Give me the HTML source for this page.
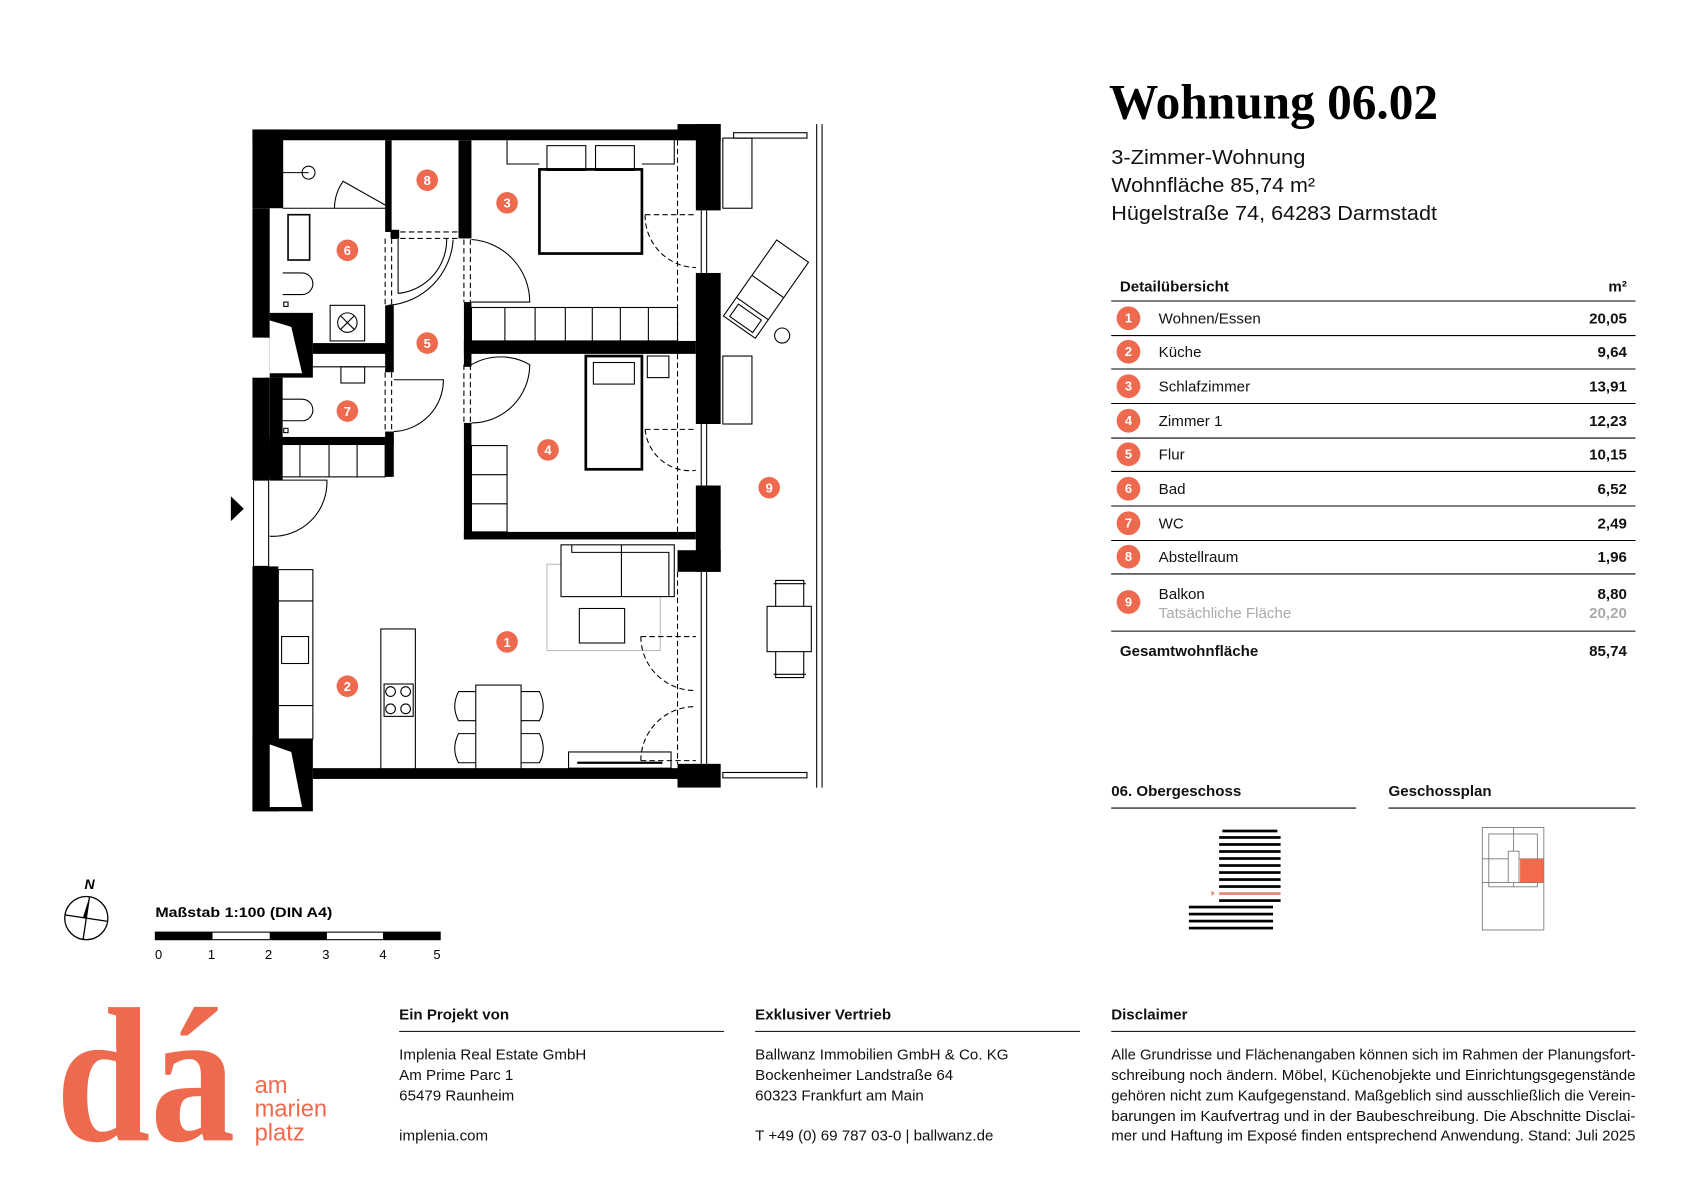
<!DOCTYPE html>
<html><head><meta charset="utf-8"><style>html,body{margin:0;padding:0;background:#fff}svg{display:block}</style></head>
<body>
<svg width="1683" height="1190" viewBox="0 0 1560 1103" xmlns="http://www.w3.org/2000/svg" font-family="Liberation Sans, sans-serif">
<rect width="1560" height="1103" fill="#fff"/>
<!-- ===== FLOOR PLAN ===== -->
<g fill="#000" stroke="none">
  <!-- top wall -->
  <rect x="234" y="120" width="412" height="10"/>
  <!-- left wall upper -->
  <rect x="234" y="120" width="28" height="73"/>
  <rect x="234" y="193" width="16" height="120"/>
  <rect x="234" y="350" width="16" height="95"/>
  <rect x="250" y="290" width="40" height="60"/>
  <rect x="250" y="350" width="12" height="95"/>
  <!-- left wall lower -->
  <rect x="234" y="525" width="24" height="227"/>
  <rect x="234" y="685" width="56" height="67"/>
  <!-- bottom wall -->
  <rect x="290" y="712" width="356" height="10"/>
  <!-- right wall columns -->
  <rect x="628" y="115" width="40" height="15"/>
  <rect x="645" y="115" width="23" height="80"/>
  <rect x="645" y="253" width="23" height="140"/>
  <rect x="645" y="450" width="23" height="80"/>
  <rect x="628" y="510" width="40" height="20"/>
  <rect x="628" y="708" width="40" height="22"/>
  <!-- interior walls -->
  <rect x="357" y="130" width="6" height="85"/>
  <rect x="425" y="130" width="12" height="85"/>
  <rect x="362" y="213" width="8" height="8"/>
  <rect x="425" y="213" width="12" height="8"/>
  <rect x="430" y="280" width="7" height="60"/>
  <rect x="430" y="316" width="215" height="12"/>
  <rect x="430" y="392" width="7" height="108"/>
  <rect x="430" y="493" width="215" height="7"/>
  <rect x="357" y="283" width="8" height="62"/>
  <rect x="290" y="318" width="70" height="10"/>
  <rect x="250" y="405" width="115" height="7"/>
  <rect x="357" y="400" width="8" height="42"/>
</g>
<g fill="#fff">
  <polygon points="250,297 270,303 280,346 250,346"/>
  <polygon points="250,690 270,697 280,748 250,748"/>
  <rect x="235" y="313" width="10" height="37"/>
  <rect x="235" y="445" width="14" height="80"/>
</g>
<g fill="none" stroke="#000" stroke-width="1">
  <rect x="235" y="445" width="14" height="80"/>
  <line x1="262" y1="193" x2="357" y2="193"/>
  <line x1="262" y1="130" x2="262" y2="193"/>
  <!-- bad fixtures -->
  <circle cx="286" cy="160" r="6"/><line x1="262" y1="160" x2="286" y2="160"/>
  <path d="M310 193 A45 45 0 0 1 318 168 L357 190"/>
  <rect x="267" y="199" width="20" height="42" stroke-width="1.5"/>
  <path d="M262 253 H280 A9 9 0 0 1 280 273 H262"/>
  <rect x="263" y="280" width="4" height="4"/>
  <rect x="306" y="283" width="32" height="33"/><circle cx="322" cy="299" r="9"/>
  <line x1="316" y1="293" x2="328" y2="305"/><line x1="328" y1="293" x2="316" y2="305"/>
  <line x1="290" y1="340" x2="357" y2="340"/>
  <rect x="316" y="340" width="22" height="15"/>
  <path d="M262 370 H280 A9 9 0 0 1 280 390 H262"/>
  <rect x="263" y="397" width="4" height="4"/>
  <!-- cabinets below 7 -->
  <rect x="250" y="412" width="107" height="30"/>
  <line x1="278" y1="412" x2="278" y2="442"/><line x1="305" y1="412" x2="305" y2="442"/><line x1="331" y1="412" x2="331" y2="442"/>
  <!-- doors -->
  <path d="M369 221 V272 M369 272 A50 50 0 0 0 414 221 M360 283 A65 65 0 0 0 420 222"/>
  <path d="M437 222 A58 58 0 0 1 491 280 H437"/>
  <path d="M437 338 A54 54 0 0 1 491 338 A54 54 0 0 1 437 392"/>
  <path d="M365 352 H411 A48 48 0 0 1 365 400"/>
  <path d="M250 445 H303 A50 50 0 0 1 250 497"/>
  <line x1="431" y1="160" x2="431" y2="210" stroke-width="3"/>
  <!-- bedroom 3 -->
  <rect x="500" y="157" width="95" height="78" stroke-width="2.5"/>
  <rect x="507" y="135" width="36" height="23"/><rect x="552" y="135" width="36" height="23"/>
  <path d="M470 130 V152 H500 M595 152 H625 V130"/>
  <rect x="437" y="285" width="191" height="31"/>
  <line x1="468" y1="285" x2="468" y2="316"/><line x1="496" y1="285" x2="496" y2="316"/><line x1="524" y1="285" x2="524" y2="316"/>
  <line x1="549" y1="285" x2="549" y2="316"/><line x1="575" y1="285" x2="575" y2="316"/><line x1="601" y1="285" x2="601" y2="316"/>
  <!-- room 4 -->
  <rect x="543" y="330" width="52" height="105" stroke-width="2.5"/>
  <rect x="550" y="336" width="38" height="20"/>
  <rect x="600" y="330" width="20" height="20"/>
  <rect x="437" y="413" width="33" height="80"/>
  <line x1="437" y1="440" x2="470" y2="440"/><line x1="437" y1="467" x2="470" y2="467"/>
  <!-- living -->
  <rect x="507" y="523" width="105" height="80" stroke="#bbb"/>
  <rect x="520" y="505" width="105" height="48" fill="#fff"/>
  <line x1="576" y1="505" x2="576" y2="553"/>
  <path d="M530 505 V512 H620 V553"/>
  <rect x="537" y="564" width="42" height="32"/>
  <!-- kitchen -->
  <rect x="258" y="528" width="32" height="157"/>
  <line x1="258" y1="557" x2="290" y2="557"/><line x1="258" y1="654" x2="290" y2="654"/>
  <rect x="261" y="590" width="25" height="25"/>
  <rect x="353" y="583" width="32" height="130"/>
  <rect x="356" y="634" width="27" height="30"/>
  <circle cx="362" cy="641" r="4.5"/><circle cx="376" cy="641" r="4.5"/><circle cx="362" cy="657" r="4.5"/><circle cx="376" cy="657" r="4.5"/>
  <!-- dining -->
  <rect x="441" y="635" width="42" height="78"/>
  <path d="M441 641 H425 Q418 655 425 668 H441 M441 680 H425 Q418 694 425 707 H441"/>
  <path d="M483 641 H500 Q507 655 500 668 H483 M483 680 H500 Q507 694 500 707 H483"/>
  <rect x="527" y="697" width="95" height="15"/>
  <line x1="535" y1="707" x2="614" y2="707" stroke-width="2"/>
  <!-- balcony -->
  <line x1="757" y1="115" x2="757" y2="730"/><line x1="762" y1="115" x2="762" y2="730"/>
  <line x1="655" y1="195" x2="655" y2="253"/><line x1="650" y1="195" x2="650" y2="253"/>
  <line x1="655" y1="393" x2="655" y2="450"/><line x1="650" y1="393" x2="650" y2="450"/>
  <line x1="655" y1="530" x2="655" y2="708"/><line x1="650" y1="530" x2="650" y2="708"/>
  <rect x="680" y="123" width="68" height="5"/><rect x="670" y="716" width="78" height="5"/>
  <rect x="670" y="128" width="27" height="65"/><rect x="670" y="330" width="27" height="63"/>
  <g transform="rotate(35 710 268)"><rect x="692" y="225" width="36" height="86"/><line x1="692" y1="265" x2="728" y2="265"/><line x1="692" y1="290" x2="728" y2="290"/><rect x="697" y="294" width="26" height="14"/></g>
  <circle cx="725" cy="311" r="7"/>
  <rect x="711" y="562" width="41" height="42"/>
  <path d="M719 562 V538 H745 V562 M719 604 V628 H745 V604 M717 541 H747 M717 625 H747"/>
</g>
<!-- dashed door / window lines -->
<g fill="none" stroke="#000" stroke-width="1" stroke-dasharray="5,3">
  <path d="M363 215 H425 M363 221 H425"/>
  <path d="M357 221 V283 M363 221 V283"/>
  <path d="M430 222 V280 M436 222 V280"/>
  <path d="M430 338 V392 M436 338 V392"/>
  <path d="M357 345 V400 M363 345 V400"/>
  <path d="M628 130 V316 M628 328 V493 M628 530 V708"/>
  <path d="M598 199 H645 M598 199 A48 48 0 0 0 645 248"/>
  <path d="M598 398 H645 M598 398 A42 42 0 0 0 645 436"/>
  <path d="M594 590 H645 M594 590 A50 50 0 0 0 645 640"/>
  <path d="M594 705 H645 M594 705 A50 50 0 0 1 645 655"/>
</g>
<polygon points="214,460 226,471.5 214,483" fill="#000"/>
<!-- room badges -->
<g font-weight="bold" font-size="12" fill="#fff" text-anchor="middle">
  <g fill="#ee6a4f"><circle cx="396" cy="167" r="10"/><circle cx="470" cy="188" r="10"/><circle cx="322" cy="232" r="10"/><circle cx="396" cy="318" r="10"/><circle cx="322" cy="381" r="10"/><circle cx="508" cy="417" r="10"/><circle cx="713" cy="452" r="10"/><circle cx="470" cy="595" r="10"/><circle cx="322" cy="636" r="10"/></g>
  <text x="396" y="171.5">8</text><text x="470" y="192.5">3</text><text x="322" y="236.5">6</text><text x="396" y="322.5">5</text><text x="322" y="385.5">7</text><text x="508" y="421.5">4</text><text x="713" y="456.5">9</text><text x="470" y="599.5">1</text><text x="322" y="640.5">2</text>
</g>
<!-- ===== RIGHT PANEL ===== -->
<text x="1028" y="110" font-family="Liberation Serif, serif" font-weight="bold" font-size="46" textLength="305" lengthAdjust="spacingAndGlyphs">Wohnung 06.02</text>
<g font-size="19" fill="#111">
  <text x="1030" y="152" textLength="180" lengthAdjust="spacingAndGlyphs">3-Zimmer-Wohnung</text>
  <text x="1030" y="178" textLength="189" lengthAdjust="spacingAndGlyphs">Wohnfläche 85,74 m²</text>
  <text x="1030" y="204" textLength="302" lengthAdjust="spacingAndGlyphs">Hügelstraße 74, 64283 Darmstadt</text>
</g>
<g font-size="14" fill="#111">
  <text x="1038" y="270" font-weight="bold">Detailübersicht</text>
  <text x="1508" y="270" font-weight="bold" text-anchor="end">m²</text>
  <g stroke="#000" stroke-width="1"><line x1="1030" y1="279" x2="1516" y2="279"/><line x1="1030" y1="311" x2="1516" y2="311"/><line x1="1030" y1="342" x2="1516" y2="342"/><line x1="1030" y1="374" x2="1516" y2="374"/><line x1="1030" y1="406" x2="1516" y2="406"/><line x1="1030" y1="437" x2="1516" y2="437"/><line x1="1030" y1="469" x2="1516" y2="469"/><line x1="1030" y1="501" x2="1516" y2="501"/><line x1="1030" y1="532" x2="1516" y2="532"/><line x1="1030" y1="585" x2="1516" y2="585"/></g>
  <g fill="#ee6a4f"><circle cx="1046" cy="295" r="11"/><circle cx="1046" cy="326" r="11"/><circle cx="1046" cy="358" r="11"/><circle cx="1046" cy="390" r="11"/><circle cx="1046" cy="421" r="11"/><circle cx="1046" cy="453" r="11"/><circle cx="1046" cy="485" r="11"/><circle cx="1046" cy="516" r="11"/><circle cx="1046" cy="558" r="11"/></g>
  <g fill="#fff" font-weight="bold" font-size="12" text-anchor="middle"><text x="1046" y="299">1</text><text x="1046" y="330">2</text><text x="1046" y="362">3</text><text x="1046" y="394">4</text><text x="1046" y="425">5</text><text x="1046" y="457">6</text><text x="1046" y="489">7</text><text x="1046" y="520">8</text><text x="1046" y="562">9</text></g>
  <text x="1074" y="300">Wohnen/Essen</text><text x="1074" y="331">Küche</text><text x="1074" y="363">Schlafzimmer</text><text x="1074" y="395">Zimmer 1</text><text x="1074" y="426">Flur</text><text x="1074" y="458">Bad</text><text x="1074" y="490">WC</text><text x="1074" y="521">Abstellraum</text><text x="1074" y="555">Balkon</text><text x="1074" y="573" fill="#aaa">Tatsächliche Fläche</text>
  <g font-weight="bold" text-anchor="end"><text x="1508" y="300">20,05</text><text x="1508" y="331">9,64</text><text x="1508" y="363">13,91</text><text x="1508" y="395">12,23</text><text x="1508" y="426">10,15</text><text x="1508" y="458">6,52</text><text x="1508" y="490">2,49</text><text x="1508" y="521">1,96</text><text x="1508" y="555">8,80</text><text x="1508" y="573" fill="#aaa">20,20</text><text x="1508" y="608">85,74</text></g>
  <text x="1038" y="608" font-weight="bold">Gesamtwohnfläche</text>
  <text x="1030" y="738" font-weight="bold">06. Obergeschoss</text>
  <text x="1287" y="738" font-weight="bold">Geschossplan</text>
  <line x1="1030" y1="749" x2="1257" y2="749" stroke="#000"/><line x1="1287" y1="749" x2="1516" y2="749" stroke="#000"/>
</g>
<g fill="#000">
  <rect x="1133" y="769" width="51" height="2.5"/>
  <rect x="1130" y="775" width="57" height="2.5"/><rect x="1130" y="781.5" width="57" height="2.5"/><rect x="1130" y="788" width="57" height="2.5"/><rect x="1130" y="794.5" width="57" height="2.5"/><rect x="1130" y="801" width="57" height="2.5"/><rect x="1130" y="807.5" width="57" height="2.5"/><rect x="1130" y="814" width="57" height="2.5"/><rect x="1130" y="820.5" width="57" height="2.5"/>
  <rect x="1130" y="827" width="57" height="2.5" fill="#e58575"/>
  <polygon points="1123,825.5 1126,828 1123,830.5" fill="#e58575"/>
  <rect x="1130" y="833.5" width="57" height="2.5"/>
  <rect x="1102" y="839.5" width="78" height="2.5"/><rect x="1102" y="846" width="78" height="2.5"/><rect x="1102" y="852.5" width="78" height="2.5"/><rect x="1102" y="859" width="78" height="2.5"/>
</g>
<g fill="none" stroke="#777" stroke-width="0.8">
  <rect x="1374" y="767" width="57" height="95"/><rect x="1380" y="773" width="45" height="49"/>
  <line x1="1403" y1="767" x2="1403" y2="822"/><line x1="1374" y1="796" x2="1431" y2="796"/><line x1="1374" y1="818" x2="1431" y2="818"/>
  <path d="M1398 796 V789 H1408 V818 H1398 Z" fill="#fff"/>
</g>
<rect x="1409" y="796" width="22" height="22" fill="#f26a4b"/>
<!-- compass & scale -->
<circle cx="80" cy="851" r="20" fill="none" stroke="#000" stroke-width="1.2"/>
<line x1="83" y1="831" x2="77" y2="871" stroke="#000" stroke-width="1.2"/><line x1="60" y1="848" x2="100" y2="854" stroke="#000" stroke-width="1.2"/>
<polygon points="83,831 80,852 77,850" fill="#000"/>
<text x="83" y="824" font-size="13" font-weight="bold" font-style="italic" text-anchor="middle">N</text>
<text x="144" y="850" font-size="13" font-weight="bold" textLength="164" lengthAdjust="spacingAndGlyphs">Maßstab 1:100 (DIN A4)</text>
<rect x="144" y="864" width="264" height="7" fill="#fff" stroke="#000" stroke-width="1"/>
<rect x="144" y="864" width="53" height="7"/><rect x="250" y="864" width="53" height="7"/><rect x="355" y="864" width="53" height="7"/>
<g font-size="12" text-anchor="middle"><text x="147" y="889">0</text><text x="196" y="889">1</text><text x="249" y="889">2</text><text x="302" y="889">3</text><text x="355" y="889">4</text><text x="405" y="889">5</text></g>
<!-- footer -->
<text x="52" y="1057" font-family="Liberation Serif, serif" font-weight="bold" font-size="178" fill="#ee6a4f" textLength="166" lengthAdjust="spacingAndGlyphs">dá</text>
<g font-size="22" fill="#ee6a4f"><text x="236" y="1013">am</text><text x="236" y="1035">marien</text><text x="236" y="1057">platz</text></g>
<g font-size="14" fill="#111">
  <text x="370" y="945" font-weight="bold">Ein Projekt von</text>
  <text x="700" y="945" font-weight="bold">Exklusiver Vertrieb</text>
  <text x="1030" y="945" font-weight="bold">Disclaimer</text>
  <g stroke="#000"><line x1="370" y1="956" x2="671" y2="956"/><line x1="700" y1="956" x2="1001" y2="956"/><line x1="1030" y1="956" x2="1516" y2="956"/></g>
  <text x="370" y="982">Implenia Real Estate GmbH</text><text x="370" y="1001">Am Prime Parc 1</text><text x="370" y="1020">65479 Raunheim</text><text x="370" y="1057">implenia.com</text>
  <text x="700" y="982">Ballwanz Immobilien GmbH &amp; Co. KG</text><text x="700" y="1001">Bockenheimer Landstraße 64</text><text x="700" y="1020">60323 Frankfurt am Main</text><text x="700" y="1057">T +49 (0) 69 787 03-0 | ballwanz.de</text>
  <g font-size="13.5">
  <text x="1030" y="982" textLength="486" lengthAdjust="spacingAndGlyphs">Alle Grundrisse und Flächenangaben können sich im Rahmen der Planungsfort-</text>
  <text x="1030" y="1001" textLength="486" lengthAdjust="spacingAndGlyphs">schreibung noch ändern. Möbel, Küchenobjekte und Einrichtungsgegenstände</text>
  <text x="1030" y="1020" textLength="486" lengthAdjust="spacingAndGlyphs">gehören nicht zum Kaufgegenstand. Maßgeblich sind ausschließlich die Verein-</text>
  <text x="1030" y="1039" textLength="486" lengthAdjust="spacingAndGlyphs">barungen im Kaufvertrag und in der Baubeschreibung. Die Abschnitte Disclai-</text>
  <text x="1030" y="1057" textLength="486" lengthAdjust="spacingAndGlyphs">mer und Haftung im Exposé finden entsprechend Anwendung. Stand: Juli 2025</text>
  </g>
</g>
</svg>
</body></html>
